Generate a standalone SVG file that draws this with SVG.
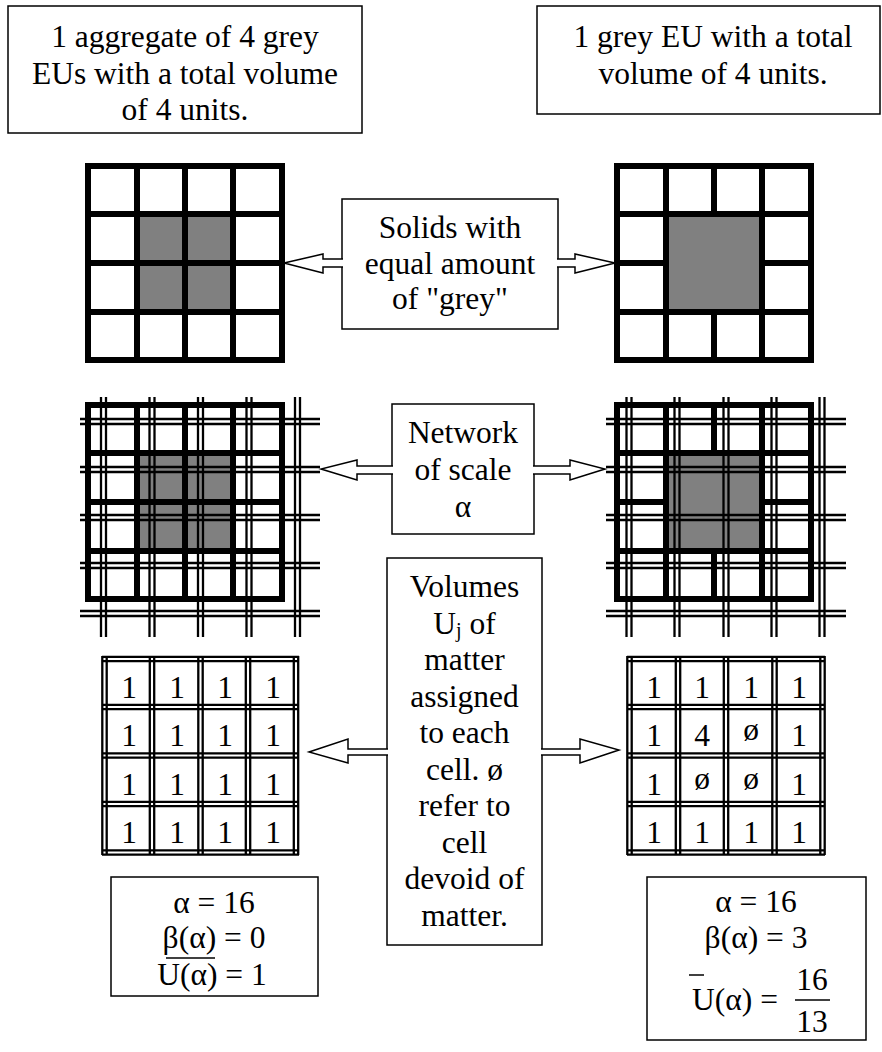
<svg xmlns="http://www.w3.org/2000/svg" width="882" height="1052" viewBox="0 0 882 1052">
<style>
.bg{fill:#fff}
.box{fill:#fff;stroke:#000;stroke-width:1.5}
.arr{fill:#fff;stroke:#000;stroke-width:1.5;stroke-linejoin:miter}
.thick{stroke:#000;stroke-width:6;stroke-linecap:square;fill:none}
.dbl{stroke:#000;stroke-width:2.3;fill:none}
.grey{fill:#808080}
.t{font-family:'Liberation Serif','Times New Roman','DejaVu Serif',serif;font-size:31.5px;text-anchor:middle;fill:#000}
.s{font-size:20px}
</style>
<rect class="bg" x="0" y="0" width="882" height="1052"/>

<g id="label-aggregate" font-family="Liberation Serif, serif">
<rect class="box" x="8" y="6" width="354" height="127"/>
<text class="t" x="185" y="47">1 aggregate of 4 grey</text>
<text class="t" x="185" y="83.5">EUs with a total volume</text>
<text class="t" x="185" y="120">of 4 units.</text>
</g>

<g id="label-single" font-family="Liberation Serif, serif">
<rect class="box" x="537" y="6" width="343" height="108"/>
<text class="t" x="713" y="47">1 grey EU with a total</text>
<text class="t" x="713" y="83.5">volume of 4 units.</text>
</g>

<g id="solid-left">
<rect class="grey" x="137" y="214" width="96" height="98"/>
<path class="thick" d="M88,166H282M88,214H282M88,263H282M88,312H282M88,360H282M88,166V360M137,166V360M185,166V360M233,166V360M282,166V360"/>
</g>

<g id="solid-right">
<rect class="grey" x="666" y="214" width="96" height="98"/>
<path class="thick" d="M617,166H811M617,214H811M617,312H811M617,360H811M617,263H666M762,263H811M617,166V360M666,166V360M762,166V360M811,166V360M714,166V214M714,312V360"/>
</g>

<g id="network-left">
<rect class="grey" x="137" y="453" width="96" height="98"/>
<path class="thick" d="M88,405H282M88,453H282M88,502H282M88,551H282M88,599H282M88,405V599M137,405V599M185,405V599M233,405V599M282,405V599"/>
<path class="dbl" d="M101,397V637M106,397V637M149.5,397V637M154.5,397V637M198,397V637M203,397V637M246.5,397V637M251.5,397V637M295,397V637M300,397V637
M80,419H320M80,424H320M80,467H320M80,472H320M80,515H320M80,520H320M80,563H320M80,568H320M80,611H320M80,616H320"/>
</g>

<g id="network-right">
<rect class="grey" x="666" y="453" width="96" height="98"/>
<path class="thick" d="M617,405H811M617,453H811M617,551H811M617,599H811M617,502H666M762,502H811M617,405V599M666,405V599M762,405V599M811,405V599M714,405V453M714,551V599"/>
<path class="dbl" d="M626.5,397V637M631.5,397V637M674.5,397V637M679.5,397V637M723.5,397V637M728.5,397V637M771.5,397V637M776.5,397V637M819.5,397V637M824.5,397V637
M606,419H846M606,424H846M606,467H846M606,472H846M606,515H846M606,520H846M606,563H846M606,568H846M606,611H846M606,616H846"/>
</g>

<g id="values-left" font-family="Liberation Serif, serif">
<path class="dbl" d="M102.3,656V855M106.7,656V855M149.8,656V855M154.2,656V855M198.3,656V855M202.7,656V855M245.8,656V855M250.2,656V855M293.8,656V855M298.2,656V855
M102,656.8H299M102,661.2H299M102,704.8H299M102,709.2H299M102,753.3H299M102,757.7H299M102,801.8H299M102,806.2H299M102,850.3H299M102,854.7H299"/>
<g class="t">
<text x="129" y="698">1</text><text x="177" y="698">1</text><text x="225" y="698">1</text><text x="273" y="698">1</text>
<text x="129" y="746">1</text><text x="177" y="746">1</text><text x="225" y="746">1</text><text x="273" y="746">1</text>
<text x="129" y="795">1</text><text x="177" y="795">1</text><text x="225" y="795">1</text><text x="273" y="795">1</text>
<text x="129" y="843">1</text><text x="177" y="843">1</text><text x="225" y="843">1</text><text x="273" y="843">1</text>
</g>
</g>

<g id="values-right" font-family="Liberation Serif, serif">
<path class="dbl" d="M627.3,656V855M631.7,656V855M675.8,656V855M680.2,656V855M723.8,656V855M728.2,656V855M772.3,656V855M776.7,656V855M820.3,656V855M824.7,656V855
M627,656.8H825M627,661.2H825M627,704.8H825M627,709.2H825M627,753.3H825M627,757.7H825M627,801.8H825M627,806.2H825M627,850.3H825M627,854.7H825"/>
<g class="t">
<text x="654" y="698">1</text><text x="702" y="698">1</text><text x="751" y="698">1</text><text x="799" y="698">1</text>
<text x="654" y="746">1</text><text x="702" y="746">4</text><text x="751" y="740">ø</text><text x="799" y="746">1</text>
<text x="654" y="795">1</text><text x="702" y="789">ø</text><text x="751" y="789">ø</text><text x="799" y="795">1</text>
<text x="654" y="843">1</text><text x="702" y="843">1</text><text x="751" y="843">1</text><text x="799" y="843">1</text>
</g>
</g>

<g id="label-solids" font-family="Liberation Serif, serif">
<rect class="box" x="342" y="199" width="216" height="130"/>
<text class="t" x="450" y="238">Solids with</text>
<text class="t" x="450" y="274">equal amount</text>
<text class="t" x="450" y="309">of "grey"</text>
</g>

<g id="label-network" font-family="Liberation Serif, serif">
<rect class="box" x="392" y="404" width="142" height="130"/>
<text class="t" x="463" y="443">Network</text>
<text class="t" x="463" y="480">of scale</text>
<text class="t" x="463" y="517">α</text>
</g>

<g id="label-volumes" font-family="Liberation Serif, serif">
<rect class="box" x="387" y="558" width="155" height="387"/>
<text class="t" x="464.5" y="597">Volumes</text>
<text class="t" x="464.5" y="633.5">U<tspan class="s" dy="3">j</tspan><tspan dy="-3"> of</tspan></text>
<text class="t" x="464.5" y="670">matter</text>
<text class="t" x="464.5" y="706.5">assigned</text>
<text class="t" x="464.5" y="743">to each</text>
<text class="t" x="464.5" y="779.5">cell. ø</text>
<text class="t" x="464.5" y="816">refer to</text>
<text class="t" x="464.5" y="852.5">cell</text>
<text class="t" x="464.5" y="889">devoid of</text>
<text class="t" x="464.5" y="925.5">matter.</text>
</g>

<g id="result-left" font-family="Liberation Serif, serif">
<rect class="box" x="111" y="877" width="207" height="119"/>
<text class="t" x="214" y="913">α = 16</text>
<text class="t" x="214" y="948">β(α) = 0</text>
<line x1="166" y1="958" x2="215" y2="958" stroke="#000" stroke-width="1.5"/>
<text class="t" x="212" y="985">U(α) = 1</text>
</g>

<g id="result-right" font-family="Liberation Serif, serif">
<rect class="box" x="647" y="877" width="219" height="163"/>
<text class="t" x="756" y="912">α = 16</text>
<text class="t" x="756" y="948">β(α) = 3</text>
<line x1="689" y1="975" x2="704" y2="975" stroke="#000" stroke-width="1.5"/>
<text class="t" x="735" y="1010">U(α) =</text>
<text class="t" x="812" y="990">16</text>
<line x1="795" y1="1000" x2="830" y2="1000" stroke="#000" stroke-width="1.5"/>
<text class="t" x="812" y="1032">13</text>
</g>

<g id="connectors">
<path class="arr" d="M343,259H323V254L284,263L323,273V267H343"/>
<path class="arr" d="M557,259H575V254L615,263L575,273V267H557"/>
<path class="arr" d="M393,466H357V460L321,469L357,480V474H393"/>
<path class="arr" d="M533,466H570V460L605,469L570,480V474H533"/>
<path class="arr" d="M388,749H348V739L309,752L348,763V755H388"/>
<path class="arr" d="M541,749H580V739L619,750L580,763V755H541"/>
</g>
</svg>
